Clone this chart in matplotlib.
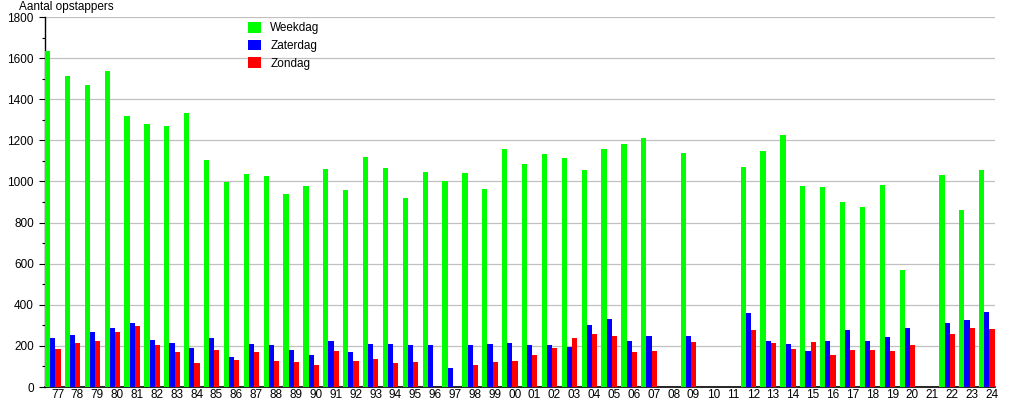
import matplotlib
matplotlib.use('Agg')
import matplotlib.pyplot as plt
import numpy as np

plt.rcParams['font.family'] = ['Liberation Sans', 'DejaVu Sans']

years = ['77', '78', '79', '80', '81', '82', '83', '84', '85', '86', '87', '88',
         '89', '90', '91', '92', '93', '94', '95', '96', '97', '98', '99', '00',
         '01', '02', '03', '04', '05', '06', '07', '08', '09', '10', '11', '12',
         '13', '14', '15', '16', '17', '18', '19', '20', '21', '22', '23', '24']

weekdag = [1633, 1515, 1471, 1536, 1320, 1281, 1268, 1335, 1106, 996, 1035, 1025,
           941, 979, 1062, 960, 1120, 1067, 921, 1048, 1004, 1043, 965, 1159,
           1086, 1135, 1116, 1057, 1159, 1184, 1213, 0, 1140, 0, 0, 1072,
           1150, 1228, 979, 975, 902, 877, 984, 571, 0, 1033, 863, 1057]

zaterdag = [236, 255, 270, 285, 309, 231, 216, 192, 236, 148, 211, 202,
            182, 158, 226, 172, 211, 211, 202, 206, 94, 202, 211, 216,
            202, 206, 197, 304, 333, 226, 246, 0, 250, 0, 0, 358,
            226, 211, 177, 226, 275, 226, 241, 289, 0, 309, 328, 363]

zondag = [187, 216, 226, 270, 299, 202, 172, 119, 182, 133, 172, 128,
          124, 109, 177, 128, 138, 119, 124, 0, 0, 109, 124, 128,
          158, 192, 236, 260, 250, 172, 177, 0, 221, 0, 0, 275,
          216, 187, 221, 158, 182, 182, 177, 202, 0, 260, 289, 280]

series = [('Weekdag', weekdag, '#00ff00'),
          ('Zaterdag', zaterdag, '#0000ff'),
          ('Zondag', zondag, '#ff0000')]

fig = plt.figure(figsize=(10.15, 4), dpi=100)
ax = fig.add_axes([45 / 1015, 13 / 400, 950 / 1015, 370 / 400])

x = np.arange(len(years))
w = 0.26
offsets = [-0.50, -0.24, 0.02]
for (name, vals, col), off in zip(series, offsets):
    ax.bar(x + off, vals, width=w, color=col, label=name, zorder=3)

ax.set_xlim(-0.63, 47.17)
ax.set_ylim(0, 1800)
ax.set_yticks(np.arange(0, 1801, 200))
ax.set_yticks(np.arange(100, 1800, 200), minor=True)
ax.set_xticks(x)
ax.set_xticklabels(years)
ax.tick_params(axis='x', length=0, pad=1.5, labelsize=8.5)
ax.tick_params(axis='y', which='major', length=4, width=0.8, pad=4, labelsize=8.5)
ax.tick_params(axis='y', which='minor', length=2.5, width=0.8)
ax.grid(axis='y', color='#c0c0c0', linewidth=0.9, zorder=0)
for s in ['top', 'right']:
    ax.spines[s].set_visible(False)
ax.spines['left'].set_linewidth(1.0)
ax.spines['bottom'].set_linewidth(1.2)

fig.text(19 / 1015, 1 - 1 / 400, 'Aantal opstappers', fontsize=8.5, va='top', ha='left')

ax.legend(loc='upper left', bbox_to_anchor=(248 / 1015, 1 - 22 / 400),
          bbox_transform=fig.transFigure, frameon=False, fontsize=8.5,
          borderaxespad=0, borderpad=0, handlelength=1.1, handleheight=1.0,
          handletextpad=0.8, labelspacing=0.45)

fig.savefig('out.png', dpi=100)
